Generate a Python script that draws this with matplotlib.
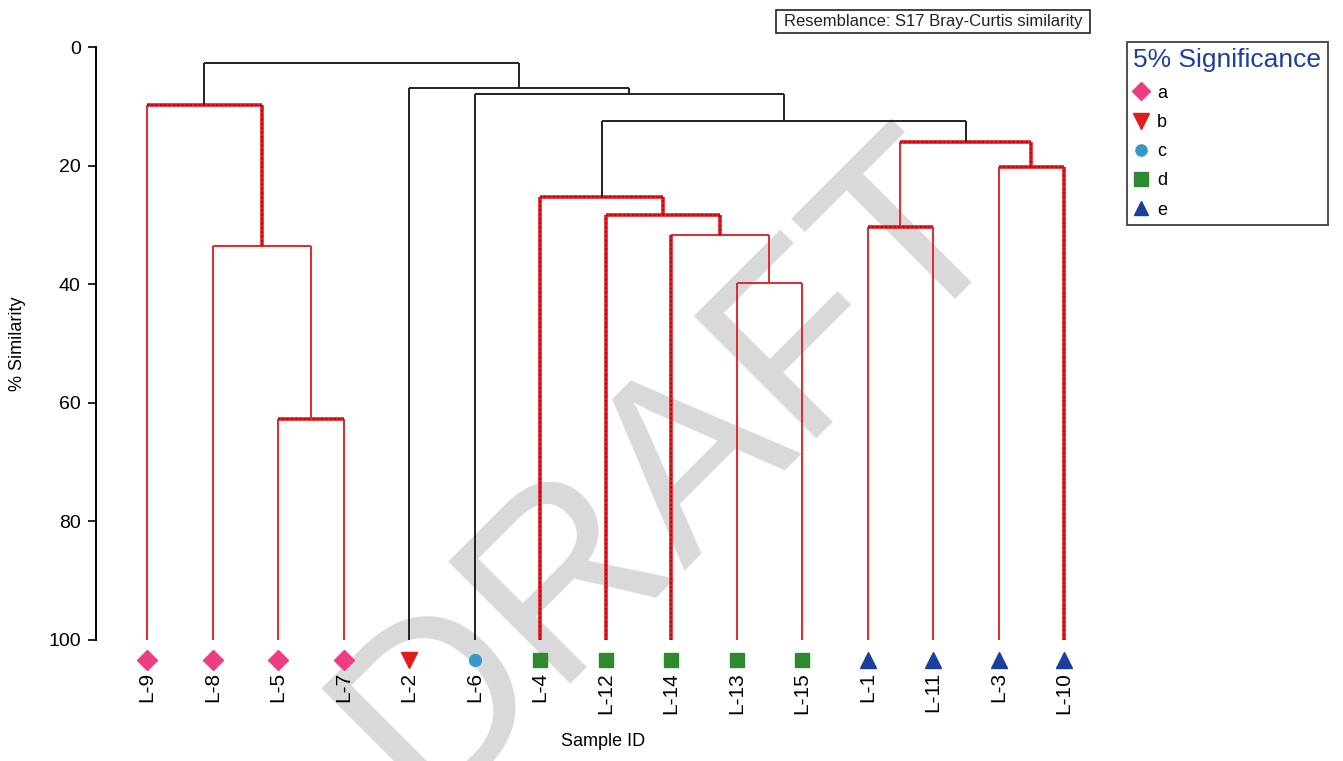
import matplotlib
matplotlib.use("Agg")
import matplotlib.pyplot as plt
from matplotlib.lines import Line2D
from matplotlib.patches import Rectangle

plt.rcParams['font.family'] = ['Liberation Sans', 'DejaVu Sans']

# ---------------- data ----------------
leaves = ["L-9", "L-8", "L-5", "L-7", "L-2", "L-6", "L-4", "L-12", "L-14",
          "L-13", "L-15", "L-1", "L-11", "L-3", "L-10"]
leaf_group = ["a", "a", "a", "a", "b", "c", "d", "d", "d", "d", "d", "e", "e", "e", "e"]

# merges: children are leaf indices (0-14) or node indices (15+)
merge_left = [2, 1, 0, 9, 8, 7, 6, 11, 13, 22, 21, 5, 4, 17]
merge_right = [3, 15, 16, 10, 18, 19, 20, 12, 14, 23, 24, 25, 26, 27]
merge_height = [62.7, 33.6, 9.8, 39.8, 31.7, 28.3, 25.3, 30.4, 20.2, 16.0, 12.5, 7.9, 6.9, 2.7]
# line style per merge: (horizontal, left vertical, right vertical)
# k = black, s = solid red, d = dotted red
merge_style = [("d", "s", "s"), ("s", "s", "s"), ("d", "s", "d"), ("s", "s", "s"),
               ("s", "d", "s"), ("d", "d", "d"), ("d", "d", "d"), ("d", "s", "s"),
               ("d", "s", "d"), ("d", "s", "d"), ("k", "k", "k"), ("k", "k", "k"),
               ("k", "k", "k"), ("k", "k", "k")]

groups = ["a", "b", "c", "d", "e"]
group_color = {"a": "#ee3d82", "b": "#e31b1b", "c": "#3a97c9", "d": "#2f8a2f", "e": "#1c3f9c"}
group_marker = {"a": "D", "b": "v", "c": "o", "d": "s", "e": "^"}
group_msize = {"a": 10, "b": 12, "c": 8.5, "d": 10, "e": 11}

yticks = [0, 20, 40, 60, 80, 100]

# ---------------- figure ----------------
W, H = 1343, 761
fig = plt.figure(figsize=(W / 100, H / 100), dpi=100)
ax = fig.add_axes([96 / W, 1 - 640 / H, (1110 - 96) / W, (640 - 47) / H])
ax.set_ylim(100, 0)
ax.set_xlim(-0.78, 14.7)

n = len(leaves)
xpos = {i: float(i) for i in range(n)}
ypos = {i: 100.0 for i in range(n)}


def draw_seg(xs, ys, st):
    if st == "k":
        ax.plot(xs, ys, color="#222222", lw=1.4, solid_capstyle="butt", zorder=3)
    elif st == "s":
        ax.plot(xs, ys, color="#e3282b", lw=1.4, solid_capstyle="butt", zorder=3)
    else:
        ax.plot(xs, ys, color="#e8181e", lw=2.6, solid_capstyle="butt", zorder=3)
        ax.plot(xs, ys, color="#9c0a10", lw=1.2, ls=(0, (1, 1.6)), zorder=4)


for k, (l, r, h, st) in enumerate(zip(merge_left, merge_right, merge_height, merge_style)):
    node = n + k
    xl, xr = xpos[l], xpos[r]
    xpos[node] = (xl + xr) / 2
    ypos[node] = h
    draw_seg([xl, xl], [ypos[l], h], st[1])
    draw_seg([xr, xr], [ypos[r], h], st[2])
    draw_seg([xl, xr], [h, h], st[0])

# markers under leaves
for i, g in enumerate(leaf_group):
    ax.plot(i, 103.4, marker=group_marker[g], color=group_color[g], ms=group_msize[g],
            ls="none", clip_on=False, zorder=5)

# axes styling
for s in ["top", "right", "bottom"]:
    ax.spines[s].set_visible(False)
ax.spines["left"].set_linewidth(1.4)
ax.set_yticks(yticks)
ax.set_yticklabels([str(v) for v in yticks], fontsize=14)
ax.tick_params(axis="y", length=6, width=1.2, pad=5)
ax.set_xticks(range(n))
ax.set_xticklabels(leaves, rotation=90, fontsize=15)
ax.tick_params(axis="x", length=0, pad=23)
ax.set_ylabel("% Similarity", fontsize=13, labelpad=16)
ax.set_xlabel("Sample ID", fontsize=13, labelpad=14)

# watermark (under the dendrogram)
ax.text(672 / W, 1 - 470 / H, "DRAFT", transform=fig.transFigure, fontsize=180,
        color="#d9d9d9", rotation=45, ha="center", va="center", zorder=1,
        clip_on=False)

# resemblance box
fig.patches.append(Rectangle((776 / W, 1 - 33 / H), (1090 - 776) / W, 23 / H,
                             transform=fig.transFigure, fill=False, ec="#222222", lw=1.2))
fig.text(933 / W, 1 - 21.5 / H, "Resemblance: S17 Bray-Curtis similarity", fontsize=12,
         ha="center", va="center", color="#222222")

# legend
handles = [Line2D([], [], marker=group_marker[g], color=group_color[g], ls="none",
                  ms=group_msize[g] * 0.95) for g in groups]
leg = fig.legend(handles, groups, loc="upper left",
                 bbox_to_anchor=(1127 / W, 1 - 42 / H), bbox_transform=fig.transFigure,
                 title="5% Significance", fontsize=13, title_fontsize=19,
                 frameon=True, fancybox=False, edgecolor="#222222", alignment="left",
                 handlelength=0.8, handletextpad=0.5, labelspacing=0.68,
                 borderpad=0.35, borderaxespad=0)
leg.get_title().set_color("#1f3fa0")
leg.get_frame().set_linewidth(1.4)

fig.savefig("out.png", dpi=100)
